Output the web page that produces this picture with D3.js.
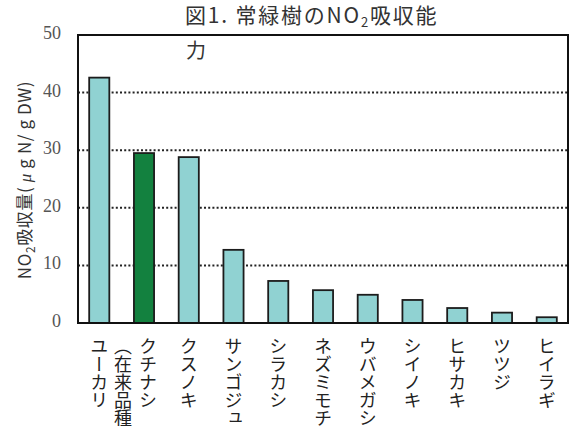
<!DOCTYPE html>
<html>
<head>
<meta charset="utf-8">
<script src="https://cdn.jsdelivr.net/npm/d3@7"></script>
<style>
  body { margin: 0; background: #fff; }
  svg { display: block; }
</style>
</head>
<body>
<svg id="chart"></svg>
<script>
// Data
var species = ["ユーカリ", "クチナシ", "クスノキ", "サンゴジュ", "シラカシ", "ネズミモチ",
               "ウバメガシ", "シイノキ", "ヒサカキ", "ツツジ", "ヒイラギ"];
var speciesLabels = [["ユーカリ"], ["クチナシ", "（在来品種）"], ["クスノキ"], ["サンゴジュ"],
                     ["シラカシ"], ["ネズミモチ"], ["ウバメガシ"], ["シイノキ"], ["ヒサカキ"],
                     ["ツツジ"], ["ヒイラギ"]];
var no2Uptake = [42.6, 29.5, 28.8, 12.7, 7.3, 5.7, 4.9, 4.0, 2.6, 1.8, 1.0];
var nativeVariety = ["クチナシ"];
var yTicks = [0, 10, 20, 30, 40, 50];
var gridTicks = [10, 20, 30, 40];

var W = 574, H = 426;
var margin = { top: 35, right: 6, bottom: 103, left: 78 };

var svg = d3.select("#chart")
    .attr("width", W)
    .attr("height", H);

var x = d3.scaleBand()
    .domain(species)
    .range([margin.left, W - margin.right])
    .paddingInner(0.55)
    .paddingOuter(0.25);

var y = d3.scaleLinear()
    .domain([0, 50])
    .range([H - margin.bottom, margin.top]);

var jp = "'Noto Sans CJK JP', 'Noto Sans', sans-serif";

// dotted grid lines (behind bars)
svg.append("g")
    .selectAll("line")
    .data(gridTicks)
    .enter().append("line")
    .attr("x1", margin.left)
    .attr("x2", W - margin.right)
    .attr("y1", function(d) { return y(d); })
    .attr("y2", function(d) { return y(d); })
    .attr("stroke", "#222")
    .attr("stroke-width", 2)
    .attr("stroke-dasharray", "2,2.2");

// bars
svg.append("g")
    .selectAll("rect")
    .data(species)
    .enter().append("rect")
    .attr("x", function(d) { return x(d); })
    .attr("y", function(d, i) { return y(no2Uptake[i]); })
    .attr("width", x.bandwidth())
    .attr("height", function(d, i) { return y(0) - y(no2Uptake[i]); })
    .attr("fill", function(d) { return nativeVariety.indexOf(d) >= 0 ? "#13813f" : "#90d2d2"; })
    .attr("stroke", "#1c1c1c")
    .attr("stroke-width", 1.8);

// frame
svg.append("rect")
    .attr("x", margin.left)
    .attr("y", margin.top)
    .attr("width", W - margin.left - margin.right)
    .attr("height", H - margin.top - margin.bottom)
    .attr("fill", "none")
    .attr("stroke", "#111")
    .attr("stroke-width", 2);

// y tick labels
svg.append("g")
    .selectAll("text")
    .data(yTicks)
    .enter().append("text")
    .attr("x", 61)
    .attr("y", function(d) { return y(d) - 2; })
    .attr("text-anchor", "end")
    .attr("dominant-baseline", "central")
    .style("font-family", "'Liberation Serif', serif")
    .style("font-size", "18px")
    .style("fill", "#555")
    .text(function(d) { return d; });

// y axis label
var yl = svg.append("text")
    .attr("transform", "translate(31,180) rotate(-90)")
    .attr("text-anchor", "middle")
    .style("font-family", jp)
    .style("font-size", "17px")
    .style("letter-spacing", "0.6px")
    .style("fill", "#333");
yl.append("tspan").text("NO");
yl.append("tspan").attr("baseline-shift", "-30%").style("font-size", "12px").text("2");
yl.append("tspan").text("吸収量( ");
yl.append("tspan").style("font-family", "'Liberation Serif', serif").style("font-style", "italic").text("μ");
yl.append("tspan").text(" g N/ g DW)");

// x labels (vertical)
var xl = svg.append("g");
species.forEach(function(s, i) {
    var cols = speciesLabels[i];
    cols.forEach(function(c, j) {
        xl.append("text")
            .attr("x", x(s) + x.bandwidth() / 2 + (cols.length - 1) * 4 - j * 25)
            .attr("y", 337)
            .style("writing-mode", "vertical-rl")
            .style("font-family", jp)
            .style("font-size", "18px")
            .style("fill", "#222")
            .text(c);
    });
});

// title
var t = svg.append("text")
    .attr("x", 185)
    .attr("y", 23)
    .style("font-family", jp)
    .style("font-size", "21px")
    .style("letter-spacing", "1.8px")
    .style("fill", "#333");
t.append("tspan").text("図1. 常緑樹のNO");
t.append("tspan").attr("baseline-shift", "-30%").style("font-size", "13px").text("2");
t.append("tspan").text("吸収能");

svg.append("text")
    .attr("x", 186)
    .attr("y", 58)
    .style("font-family", jp)
    .style("font-size", "20px")
    .style("fill", "#333")
    .text("力");
</script>
</body>
</html>
